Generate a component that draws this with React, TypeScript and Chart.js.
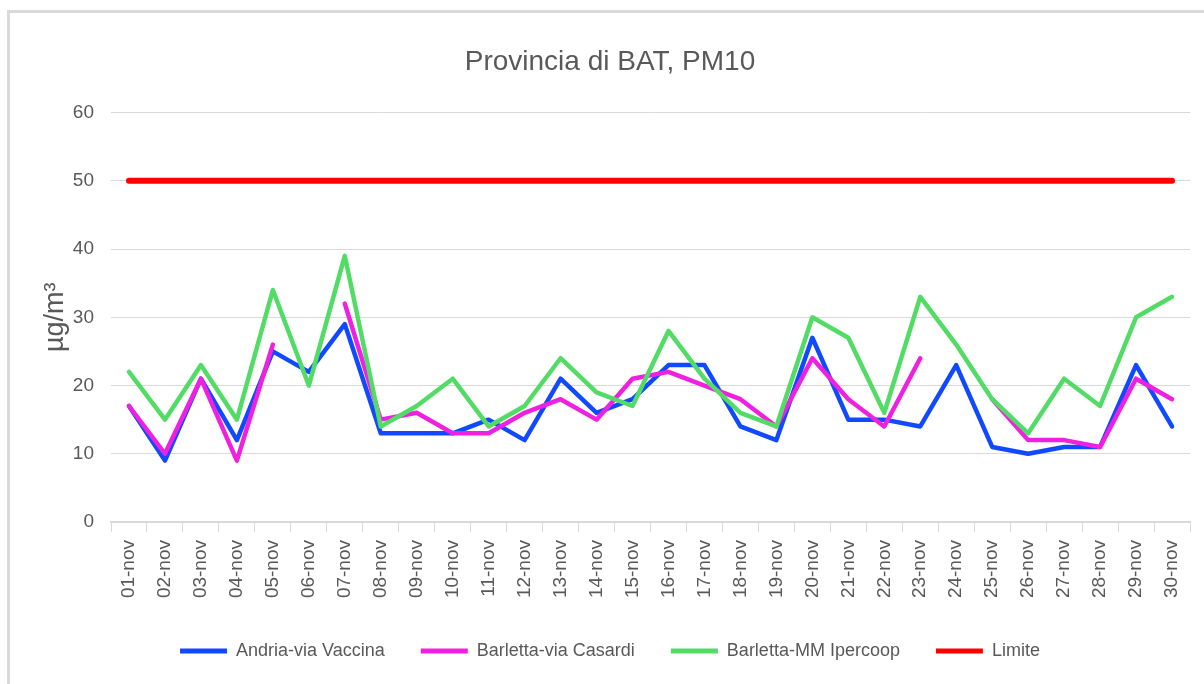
import React, { useEffect, useRef } from 'react';
import { Chart, registerables } from 'chart.js';

Chart.register(...registerables);

const days = [
  '01-nov', '02-nov', '03-nov', '04-nov', '05-nov', '06-nov', '07-nov', '08-nov', '09-nov', '10-nov',
  '11-nov', '12-nov', '13-nov', '14-nov', '15-nov', '16-nov', '17-nov', '18-nov', '19-nov', '20-nov',
  '21-nov', '22-nov', '23-nov', '24-nov', '25-nov', '26-nov', '27-nov', '28-nov', '29-nov', '30-nov',
];

const andriaViaVaccina = [17, 9, 21, 12, 25, 22, 29, 13, 13, 13, 15, 12, 21, 16, 18, 23, 23, 14, 12, 27, 15, 15, 14, 23, 11, 10, 11, 11, 23, 14];
const barlettaViaCasardi = [17, 10, 21, 9, 26, null, 32, 15, 16, 13, 13, 16, 18, 15, 21, 22, 20, 18, 14, 24, 18, 14, 24, null, 18, 12, 12, 11, 21, 18];
const barlettaIpercoop = [22, 15, 23, 15, 34, 20, 39, 14, 17, 21, 14, 17, 24, 19, 17, 28, 21, 16, 14, 30, 27, 16, 33, 26, 18, 13, 21, 17, 30, 33];
const limite = [50, 50, 50, 50, 50, 50, 50, 50, 50, 50, 50, 50, 50, 50, 50, 50, 50, 50, 50, 50, 50, 50, 50, 50, 50, 50, 50, 50, 50, 50];

const seriesNames = ['Andria-via Vaccina', 'Barletta-via Casardi', 'Barletta-MM Ipercoop', 'Limite'];
const seriesColors = ['#1149ff', '#f020e0', '#52dc66', '#ff0000'];

const yMin = 0;
const yMax = 60;
const yStep = 10;

const titleText = 'Provincia di BAT, PM10';
const yTitle = 'µg/m³';

const FONT = "'Liberation Sans', Arial, sans-serif";
const TEXT = '#595959';
const GRID = '#d9d9d9';

export default function App() {
  const ref = useRef<HTMLCanvasElement>(null);

  useEffect(() => {
    if (!ref.current) return;
    const dataSets = [andriaViaVaccina, barlettaViaCasardi, barlettaIpercoop, limite];
    const chart = new Chart(ref.current, {
      type: 'line',
      data: {
        labels: days,
        datasets: dataSets.map((d, i) => ({
          label: seriesNames[i],
          data: d,
          borderColor: seriesColors[i],
          backgroundColor: seriesColors[i],
          borderWidth: i === 3 ? 6 : 4.5,
          order: 4 - i,
        })),
      },
      options: {
        animation: false,
        responsive: false,
        devicePixelRatio: 1,
        spanGaps: false,
        layout: { padding: { left: 30, right: 14, top: 0, bottom: 14 } },
        elements: {
          point: { radius: 0, hoverRadius: 0 },
          line: { tension: 0, borderJoinStyle: 'round', borderCapStyle: 'round' },
        },
        scales: {
          x: {
            offset: true,
            grid: { offset: true, drawOnChartArea: false, drawTicks: true, tickLength: 10, color: GRID, lineWidth: 1 },
            border: { display: true, color: GRID, width: 2 },
            ticks: {
              minRotation: 90,
              maxRotation: 90,
              autoSkip: false,
              padding: 8,
              color: TEXT,
              font: { family: FONT, size: 19 },
            },
            afterFit: (s: any) => { s.height = 84; },
          },
          y: {
            min: yMin,
            max: yMax,
            ticks: { stepSize: yStep, padding: 17, color: TEXT, font: { family: FONT, size: 19 } },
            grid: { color: GRID, lineWidth: 1, drawTicks: false },
            border: { display: false },
            title: {
              display: true,
              text: yTitle,
              color: TEXT,
              font: { family: FONT, size: 27 },
              padding: { top: 9, bottom: 0 },
            },
            afterFit: (s: any) => { s.width = 81; },
          },
        },
        plugins: {
          title: {
            display: true,
            text: titleText,
            color: TEXT,
            font: { family: FONT, size: 28, weight: 'normal' },
            padding: { top: 45, bottom: 34 },
          },
          legend: {
            position: 'bottom',
            labels: {
              boxWidth: 47,
              boxHeight: 5,
              padding: 36,
              color: TEXT,
              font: { family: FONT, size: 18 },
              sort: (a: any, b: any) => a.datasetIndex - b.datasetIndex,
              generateLabels: (c: any) => {
                const items = Chart.defaults.plugins.legend.labels.generateLabels(c);
                return items.map((it: any) => ({ ...it, fillStyle: it.strokeStyle, lineWidth: 0 }));
              },
            },
          },
          tooltip: { enabled: false },
        },
      },
    });
    return () => chart.destroy();
  }, []);

  return (
    <div style={{ position: 'fixed', left: 0, top: 0, width: 1204, height: 684, overflow: 'hidden', background: '#fff' }}>
      <div
        style={{
          position: 'absolute', left: 7, top: 10, width: 1300, height: 800,
          border: '3px solid #d9d9d9', boxSizing: 'border-box',
        }}
      />
      <canvas ref={ref} width={1204} height={684} style={{ position: 'absolute', left: 0, top: 0, width: 1204, height: 684 }} />
    </div>
  );
}
